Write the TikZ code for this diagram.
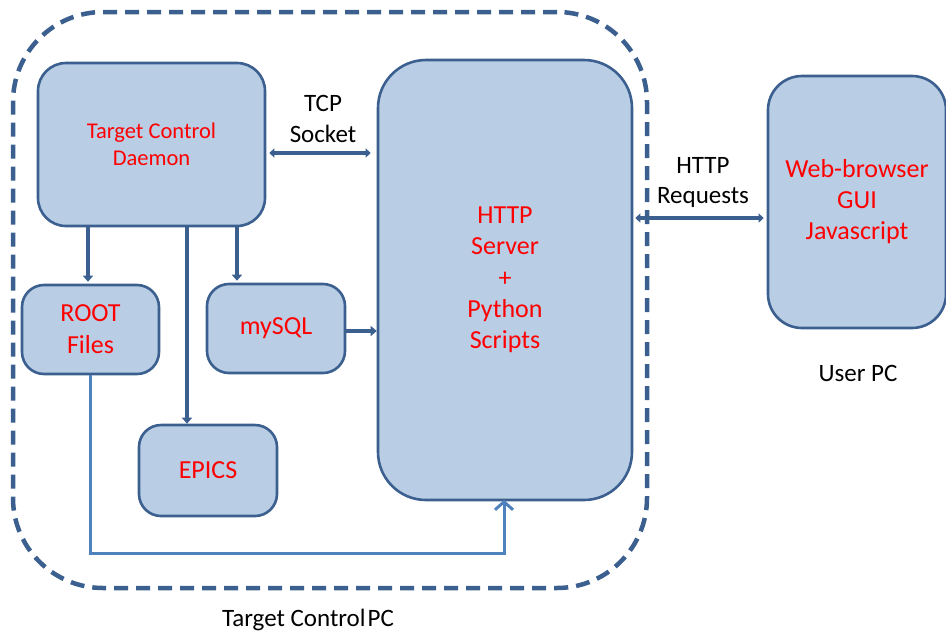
\documentclass[tikz,border=0pt]{standalone}
\usepackage{fontspec}
\setmainfont{Carlito}
\usetikzlibrary{arrows.meta,calc}
\definecolor{boxfill}{HTML}{B9CDE5}
\definecolor{boxline}{HTML}{3B5F8E}
\definecolor{lightline}{HTML}{4F81BD}
\definecolor{txtred}{HTML}{FF0000}
\tikzset{
  blk/.style={draw=boxline, fill=boxfill, line width=2.6pt, rounded corners=#1, text=txtred, align=center, inner sep=0pt},
  blk/.default=28pt,
  fat/.style={draw=boxline, line width=4.5pt, -{Triangle[width=10pt,length=6pt]}},
  fatboth/.style={draw=boxline, line width=4pt, {Triangle[width=9pt,length=5pt]}-{Triangle[width=9pt,length=5pt]}},
  lbl/.style={align=center, text=black, inner sep=0pt},
}
\begin{document}
\begin{tikzpicture}[x=1pt,y=-1pt]
\useasboundingbox (0,0) rectangle (946,633);
% outer dashed container
\node[draw=boxline, line width=4.5pt, dash pattern=on 14pt off 8pt, rounded corners=90pt,
      minimum width=634pt, minimum height=576pt, inner sep=0pt] (tpc) at (330,300) {};
% blocks
\node[blk, minimum width=227pt, minimum height=163pt, font=\fontsize{22.5}{27}\selectfont] (daemon) at (151.5,144.5) {Target Control\\Daemon};
\node[blk=22pt, minimum width=137pt, minimum height=89pt, font=\fontsize{26}{32}\selectfont] (root) at (90.5,329.5) {ROOT\\Files};
\node[blk=22pt, minimum width=138pt, minimum height=89pt, font=\fontsize{26}{32}\selectfont] (mysql) at (276,328.5) {mySQL};
\node[blk=22pt, minimum width=138pt, minimum height=91pt, font=\fontsize{26}{32}\selectfont] (epics) at (208,470.5) {EPICS};
\node[blk=48pt, minimum width=254pt, minimum height=440pt, font=\fontsize{26}{31.3}\selectfont] (http) at (505,280) {HTTP\\Server\\+\\Python\\Scripts};
\node[blk=34pt, minimum width=178pt, minimum height=252pt, font=\fontsize{26}{31}\selectfont] (web) at (857,202) {Web-browser\\GUI\\Javascript};
% labels
\node[lbl, font=\fontsize{25}{31}\selectfont] (tcplbl) at (323,118.5) {TCP\\Socket};
\node[lbl, font=\fontsize{25}{30}\selectfont] (reqlbl) at (703,182) {HTTP\\Requests};
\node[lbl, font=\fontsize{25}{28}\selectfont] (userpc) at (858,373) {User PC};
\node[lbl, font=\fontsize{25}{28}\selectfont] (tpclbl) at (308,620) {Target Control\hspace{0.08em}PC};
% helper coordinates
\coordinate (tcpy) at (0,153);
\coordinate (reqy) at (0,218);
\coordinate (sqly) at (0,331);
\coordinate (epx) at (187,0);
\coordinate (sqlx) at (237,0);
\coordinate (rootx) at (88,0);
\coordinate (busy) at (0,553);
\coordinate (httpx) at (504,0);
% connectors
\draw[fatboth] ([xshift=3pt]daemon.east |- tcpy) -- ([xshift=-6pt]http.west |- tcpy);
\draw[fatboth] ([xshift=2pt]http.east |- reqy) -- ([xshift=-3pt]web.west |- reqy);
\draw[fat] (mysql.east |- sqly) -- (http.west |- sqly);
\draw[fat] (daemon.south -| rootx) -- ([yshift=2pt]root.north -| rootx);
\draw[fat] (daemon.south -| epx) -- ([yshift=0pt]epics.north -| epx);
\draw[fat] (daemon.south -| sqlx) -- ([yshift=2pt]mysql.north -| sqlx);
\draw[draw=lightline, line width=3pt, -{Straight Barb[length=8pt,width=18pt,line width=3pt]}]
  (root.south) -- (root.south |- busy) -| ([yshift=1.5pt]http.south -| httpx);
\end{tikzpicture}
\end{document}
